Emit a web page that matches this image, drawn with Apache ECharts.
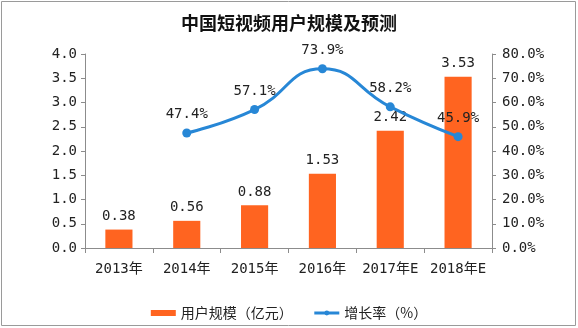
<!DOCTYPE html>
<html>
<head>
<meta charset="utf-8">
<script src="https://cdn.jsdelivr.net/npm/echarts@6/dist/echarts.min.js"></script>
<style>
html,body{margin:0;padding:0;background:#fff;}
#c{width:578px;height:328px;}
</style>
</head>
<body>
<div id="c"></div>
<script>
var categories = ['2013年', '2014年', '2015年', '2016年', '2017年E', '2018年E'];
var userScale = [0.38, 0.56, 0.88, 1.53, 2.42, 3.53];
var growthRate = [null, 47.4, 57.1, 73.9, 58.2, 45.9];
var titleText = '中国短视频用户规模及预测';
var barName = '用户规模（亿元）';
var lineName = '增长率（%）';

var numFont = '"DejaVu Sans Mono", "Noto Sans CJK SC", monospace';
var cjkFont = '"Noto Sans CJK SC", sans-serif';
var axisColor = '#8c8c8c';
var textColor = '#222';

var chart = echarts.init(document.getElementById('c'));
chart.setOption({
  animation: false,
  backgroundColor: '#fff',
  title: {
    text: titleText,
    left: 'center',
    top: 9,
    textStyle: { fontFamily: cjkFont, fontSize: 18, fontWeight: 'bold', color: '#111' }
  },
  graphic: [{
    type: 'rect',
    shape: { x: 1.5, y: 1.5, width: 574, height: 324 },
    style: { fill: 'none', stroke: '#9a9a9a', lineWidth: 1 },
    silent: true
  }],
  legend: {
    left: 'center',
    top: 301,
    itemWidth: 25,
    itemHeight: 6,
    itemGap: 20,
    textStyle: { fontFamily: cjkFont, fontSize: 14, color: textColor },
    data: [
      { name: barName, icon: 'rect' },
      { name: lineName, lineStyle: { width: 3 } }
    ]
  },
  grid: { left: 85, right: 86, top: 54, bottom: 80, containLabel: false },
  xAxis: {
    type: 'category',
    data: categories,
    axisLine: { lineStyle: { color: axisColor, width: 1 } },
    axisTick: { show: true, alignWithLabel: false, length: 5, lineStyle: { color: axisColor } },
    axisLabel: { fontFamily: numFont, fontSize: 14, color: textColor, margin: 14, interval: 0 }
  },
  yAxis: [{
    type: 'value',
    min: 0, max: 4, interval: 0.5,
    axisLine: { show: true, lineStyle: { color: axisColor } },
    axisTick: { show: true, length: 4, lineStyle: { color: axisColor } },
    splitLine: { show: false },
    axisLabel: {
      fontFamily: numFont, fontSize: 14, color: textColor, margin: 8,
      formatter: function (v) { return v.toFixed(1); }
    }
  }, {
    type: 'value',
    min: 0, max: 80, interval: 10,
    axisLine: { show: true, lineStyle: { color: axisColor } },
    axisTick: { show: true, length: 4, lineStyle: { color: axisColor } },
    splitLine: { show: false },
    axisLabel: {
      fontFamily: numFont, fontSize: 14, color: textColor, margin: 10,
      formatter: function (v) { return v.toFixed(1) + '%'; }
    }
  }],
  series: [{
    name: barName,
    type: 'bar',
    yAxisIndex: 0,
    data: userScale,
    barWidth: '40%',
    itemStyle: { color: '#ff6420' },
    label: {
      show: true, position: 'top', distance: 6,
      fontFamily: numFont, fontSize: 14, color: textColor,
      formatter: function (p) { return p.value.toFixed(2); }
    }
  }, {
    name: lineName,
    type: 'line',
    yAxisIndex: 1,
    data: growthRate,
    smooth: true,
    symbol: 'circle',
    symbolSize: 9,
    lineStyle: { color: '#2787d6', width: 3 },
    itemStyle: { color: '#2787d6' },
    label: {
      show: true, position: 'top', distance: 7,
      fontFamily: numFont, fontSize: 14, color: textColor,
      formatter: function (p) { return p.value == null ? '' : p.value.toFixed(1) + '%'; }
    }
  }]
});
</script>
</body>
</html>
